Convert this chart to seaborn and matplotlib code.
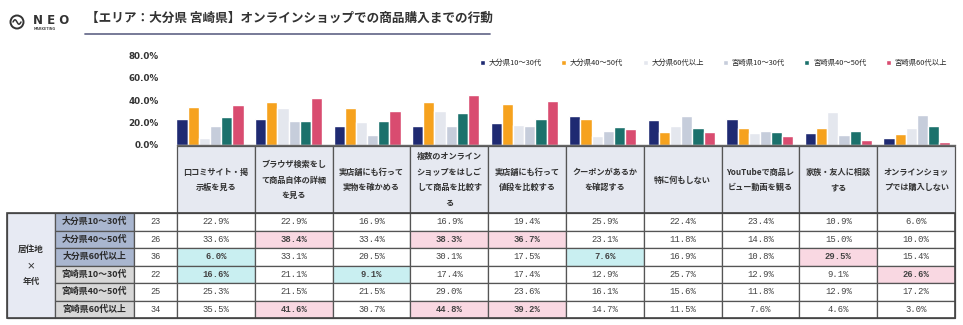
import matplotlib
matplotlib.use("Agg")
import matplotlib.pyplot as plt
import matplotlib.patches as mpatches
import seaborn as sns
import pandas as pd
import numpy as np

# ---------------- data ----------------
actions = [
    "口コミサイト・掲\n示板を見る",
    "ブラウザ検索をし\nて商品自体の詳細\nを見る",
    "実店舗にも行って\n実物を確かめる",
    "複数のオンライン\nショップをはしご\nして商品を比較す\nる",
    "実店舗にも行って\n値段を比較する",
    "クーポンがあるか\nを確認する",
    "特に何もしない",
    "YouTubeで商品レ\nビュー動画を観る",
    "家族・友人に相談\nする",
    "オンラインショッ\nプでは購入しない",
]
groups = ["大分県10～30代", "大分県40～50代", "大分県60代以上",
          "宮崎県10～30代", "宮崎県40～50代", "宮崎県60代以上"]
n_values = [23, 26, 36, 22, 25, 34]

oita_10_30 = [22.9, 22.9, 16.9, 16.9, 19.4, 25.9, 22.4, 23.4, 10.9, 6.0]
oita_40_50 = [33.6, 38.4, 33.4, 38.3, 36.7, 23.1, 11.8, 14.8, 15.0, 10.0]
oita_60 = [6.0, 33.1, 20.5, 30.1, 17.5, 7.6, 16.9, 10.8, 29.5, 15.4]
miya_10_30 = [16.6, 21.1, 9.1, 17.4, 17.4, 12.9, 25.7, 12.9, 9.1, 26.6]
miya_40_50 = [25.3, 21.5, 21.5, 29.0, 23.6, 16.1, 15.6, 11.8, 12.9, 17.2]
miya_60 = [35.5, 41.6, 30.7, 44.8, 39.2, 14.7, 11.5, 7.6, 4.6, 3.0]
series = [oita_10_30, oita_40_50, oita_60, miya_10_30, miya_40_50, miya_60]

# highlight flags: 'h' high (pink), 'l' low (cyan), '' none
highlights = [
    ["", "", "", "", "", "", "", "", "", ""],
    ["", "h", "", "h", "h", "", "", "", "", ""],
    ["l", "", "", "", "", "l", "", "", "h", ""],
    ["l", "", "l", "", "", "", "", "", "", "h"],
    ["", "", "", "", "", "", "", "", "", ""],
    ["", "h", "", "h", "h", "", "", "", "", ""],
]

yticks = [0, 20, 40, 60, 80]
title = "【エリア：大分県 宮崎県】オンラインショップでの商品購入までの行動"

colors = ["#1f2a72", "#f6a21e", "#e4e7ee", "#c6cddb", "#1b716c", "#d94c70"]

# ---------------- figure ----------------
sns.set_theme(style="white")
plt.rcParams["font.family"] = ["Noto Sans CJK JP", "DejaVu Sans"]

W, H = 963, 325
fig = plt.figure(figsize=(W / 100, H / 100), dpi=100)

def fx(px):
    return px / W

def fy(py):
    return 1 - py / H

# overlay axes for table / decorations (pixel coordinates)
tab = fig.add_axes([0, 0, 1, 1])
tab.set_xlim(0, W)
tab.set_ylim(H, 0)
tab.axis("off")

# bar chart axes
col_left, col_right = 177, 955
base_y, top_y = 145, 55.5
ax = fig.add_axes([fx(col_left), fy(base_y), fx(col_right - col_left), (base_y - top_y) / H])
ax.patch.set_alpha(0)

rows = []
for g, vals in zip(groups, series):
    for a, v in zip(actions, vals):
        rows.append({"行動": a, "属性": g, "割合": v})
df = pd.DataFrame(rows)

sns.barplot(data=df, x="行動", y="割合", hue="属性", order=actions, hue_order=groups,
            palette=colors, width=0.853, saturation=1, ax=ax, errorbar=None)

spacing = 78.55
a0 = -(210 - col_left) / spacing
ax.set_xlim(a0, a0 + (col_right - col_left) / spacing)
ax.set_ylim(0, 80)
ax.set_yticks(yticks)
ax.set_yticklabels([f"{t:.1f}%" for t in yticks], fontsize=6.3, color="#333333",
                   fontfamily=["DejaVu Sans"], fontweight="bold")
ax.tick_params(axis="y", length=0, pad=13)
ax.set_xticks([])
ax.set_xlabel("")
ax.set_ylabel("")
for s in ["top", "right", "left"]:
    ax.spines[s].set_visible(False)
ax.spines["bottom"].set_color("#666666")
ax.spines["bottom"].set_linewidth(1.0)

handles, labels = ax.get_legend_handles_labels()
ax.legend_.remove()
fig.legend(handles, labels, loc="center left", bbox_to_anchor=(fx(480), fy(63)),
           ncol=6, frameon=False, fontsize=5.3, handlelength=0.7, handleheight=0.7,
           handletextpad=0.5, columnspacing=2.6, borderaxespad=0, borderpad=0)

# ---------------- header decorations ----------------
# logo
circ = mpatches.Circle((17, 22), 6.5, fill=False, lw=1.4, ec="#333333")
tab.add_patch(circ)
wx = np.linspace(13, 21, 30)
tab.plot(wx, 22 - 2.2 * np.sin((wx - 13) / 8 * 2 * np.pi), color="#333333", lw=1.1)
tab.text(33, 20, "N E O", fontsize=8.5, fontweight="bold", color="#333333",
         ha="left", va="center", fontfamily=["DejaVu Sans"])
tab.text(33.5, 29.5, "MARKETING", fontsize=2.4, fontweight="bold", color="#555555",
         ha="left", va="center", fontfamily=["DejaVu Sans"])

tab.text(86, 18, title, fontsize=9.1, color="#333333", ha="left", va="center",
         fontweight="bold")
tab.plot([85, 490], [33.5, 33.5], color="#6c6f8f", lw=1.3)

# ---------------- table ----------------
ncols = len(actions)
cw = (col_right - col_left) / ncols
hdr_top, hdr_bot = 146, 213
row_h = (318 - 213) / 6
edge = "#555555"

for j, a in enumerate(actions):
    x0 = col_left + j * cw
    tab.add_patch(mpatches.Rectangle((x0, hdr_top), cw, hdr_bot - hdr_top,
                                     fc="#e6e9f1", ec=edge, lw=0.9))
    tab.text(x0 + cw / 2, (hdr_top + hdr_bot) / 2 + 0.5, a, ha="center", va="center",
             fontsize=5.9, color="#333333", linespacing=1.95, fontweight="bold")

# merged left cell
tab.add_patch(mpatches.Rectangle((7, hdr_bot), 48, 6 * row_h, fc="#e7eaf3", ec=edge, lw=0.9))
tab.text(31, hdr_bot + 3 * row_h, "居住地\n×\n年代", ha="center", va="center",
         fontsize=6.2, color="#333333", linespacing=2.0, fontweight="bold")

for i, (g, n) in enumerate(zip(groups, n_values)):
    y0 = hdr_bot + i * row_h
    lab_fc = "#a9b6cf" if i < 3 else "#d7d7d7"
    tab.add_patch(mpatches.Rectangle((55, y0), 79, row_h, fc=lab_fc, ec=edge, lw=0.9))
    tab.text(94.5, y0 + row_h / 2, g, ha="center", va="center", fontsize=6.4,
             color="#2a2a2a", fontweight="bold")
    tab.add_patch(mpatches.Rectangle((134, y0), 43, row_h, fc="white", ec=edge, lw=0.9))
    tab.text(155.5, y0 + row_h / 2, str(n), ha="center", va="center", fontsize=6.2,
             color="#444444", fontfamily=["Liberation Mono"])
    for j in range(ncols):
        x0 = col_left + j * cw
        flag = highlights[i][j]
        fc = {"h": "#f9d8e2", "l": "#c9eff1"}.get(flag, "white")
        tab.add_patch(mpatches.Rectangle((x0, y0), cw, row_h, fc=fc, ec=edge, lw=0.9))
        v = series[i][j]
        tab.text(x0 + cw / 2, y0 + row_h / 2, f"{v:.1f}%", ha="center", va="center",
                 fontsize=6.4, color="#444444", fontfamily=["Liberation Mono"],
                 fontweight="bold" if flag else "normal")

# outer border of body
tab.add_patch(mpatches.Rectangle((7, hdr_bot), col_right - 7, 6 * row_h, fill=False,
                                 ec="#444444", lw=1.2))

fig.savefig("out.png", dpi=100)
